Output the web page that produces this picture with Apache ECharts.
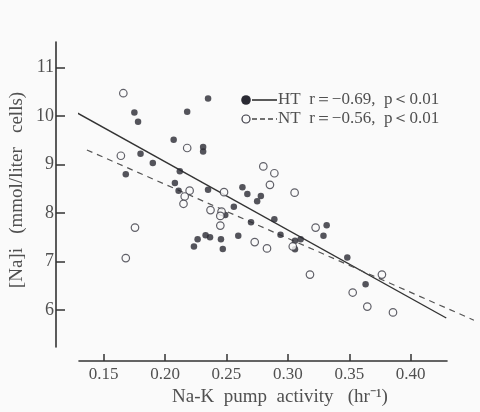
<!DOCTYPE html>
<html>
<head>
<meta charset="utf-8">
<script src="https://cdn.jsdelivr.net/npm/echarts@6/dist/echarts.min.js"></script>
<style>
html,body{margin:0;padding:0;background:#fafafa;}
#c{width:480px;height:412px;}
</style>
</head>
<body>
<div id="c"></div>
<script>
// HT (hypertensive) points: [pump activity, [Na]i]
const htPoints = [
  [0.168, 8.80], [0.175, 10.07], [0.178, 9.88], [0.180, 9.22], [0.190, 9.03],
  [0.207, 9.51], [0.208, 8.62], [0.211, 8.46], [0.212, 8.86], [0.218, 10.09],
  [0.231, 9.36], [0.231, 9.27], [0.235, 10.36], [0.235, 8.48], [0.256, 8.13],
  [0.249, 7.96], [0.263, 8.53], [0.267, 8.39], [0.278, 8.35], [0.275, 8.24],
  [0.270, 7.81], [0.289, 7.87], [0.294, 7.55], [0.2265, 7.46], [0.233, 7.54],
  [0.2366, 7.50], [0.2455, 7.46], [0.2235, 7.31], [0.247, 7.26], [0.2596, 7.53],
  [0.3058, 7.43], [0.3104, 7.46], [0.3058, 7.25], [0.3316, 7.75], [0.329, 7.53],
  [0.3484, 7.08], [0.3633, 6.53]
];
// NT (normotensive) points
const ntPoints = [
  [0.166, 10.47], [0.164, 9.18], [0.1755, 7.70], [0.168, 7.07], [0.218, 9.34],
  [0.220, 8.46], [0.216, 8.34], [0.215, 8.19], [0.248, 8.43], [0.237, 8.06],
  [0.246, 8.03], [0.245, 7.94], [0.245, 7.74], [0.273, 7.40], [0.283, 7.27],
  [0.280, 8.96], [0.289, 8.82], [0.2854, 8.58], [0.3055, 8.42], [0.3226, 7.70],
  [0.304, 7.31], [0.318, 6.73], [0.3766, 6.73], [0.3528, 6.36], [0.3647, 6.07],
  [0.3856, 5.95]
];
// regression line endpoints
const htLine = [[0.128, 10.07], [0.429, 5.835]];
const ntLine = [[0.1364, 9.30], [0.455, 5.79]];
// ticks
const xTicks = [0.15, 0.20, 0.25, 0.30, 0.35, 0.40];
const yTicks = [6, 7, 8, 9, 10, 11];
const legendHT = 'HT  r＝−0.69,  p＜0.01';
const legendNT = 'NT  r＝−0.56,  p＜0.01';
const xTitle = 'Na-K  pump  activity   (hr⁻¹)';
const yTitle = '[Na]i   (mmol/liter   cells)';

const FONT = 'Liberation Serif';
const INK = '#2a2a33';
const TXT = '#505050';

const X_MIN = 0.1299, X_MAX = 0.4296, PX_PER_X = 368 / (X_MAX - X_MIN);
const X_MAX2 = 0.46;

const chart = echarts.init(document.getElementById('c'));
chart.setOption({
  backgroundColor: '#fafafa',
  animation: false,
  grid: [
    {left: 79, width: 368, top: 42, height: 305},
    {left: 79, width: Math.round((X_MAX2 - X_MIN) * PX_PER_X), top: 42, height: 305}
  ],
  xAxis: [{
    type: 'value', min: X_MIN, max: X_MAX, offset: 14, gridIndex: 0,
    axisLine: {lineStyle: {color: '#333', width: 1.6}},
    axisTick: {inside: true, length: 7, customValues: xTicks, lineStyle: {color: '#333', width: 1.5}},
    axisLabel: {customValues: xTicks, formatter: v => v.toFixed(2), color: TXT, fontFamily: FONT, fontSize: 17, margin: 5},
    splitLine: {show: false}
  }, {
    type: 'value', min: X_MIN, max: X_MAX2, gridIndex: 1, show: false
  }],
  yAxis: [{
    type: 'value', min: 5.237, max: 11.526, offset: 23, gridIndex: 0,
    axisLine: {show: true, lineStyle: {color: '#333', width: 1.6}},
    axisTick: {show: true, inside: true, length: 9, customValues: yTicks, lineStyle: {color: '#333', width: 1.5}},
    axisLabel: {customValues: yTicks, color: TXT, fontFamily: FONT, fontSize: 18, margin: 2},
    splitLine: {show: false}
  }, {
    type: 'value', min: 5.237, max: 11.526, gridIndex: 1, show: false
  }],
  series: [
    {type: 'line', data: htLine, symbol: 'none', clip: false, z: 1,
     lineStyle: {color: '#333', width: 1.4}},
    {type: 'line', data: ntLine, symbol: 'none', z: 1, xAxisIndex: 1, yAxisIndex: 1,
     lineStyle: {color: '#555', width: 1.2, type: [6, 5]}},
    {type: 'scatter', data: htPoints, symbolSize: 6.5, z: 3,
     itemStyle: {color: INK}},
    {type: 'scatter', data: ntPoints, symbolSize: 7.5, z: 3,
     itemStyle: {color: '#fafafa', borderColor: '#3a3a44', borderWidth: 1.2}}
  ],
  graphic: [
    {type: 'circle', shape: {cx: 246, cy: 100, r: 4.8}, style: {fill: INK}},
    {type: 'line', shape: {x1: 252, y1: 100, x2: 277, y2: 100}, style: {stroke: '#333', lineWidth: 1.6}},
    {type: 'text', x: 278, y: 100, style: {text: legendHT, font: '17px "Liberation Serif"', fill: TXT, verticalAlign: 'middle'}},
    {type: 'circle', shape: {cx: 246, cy: 119, r: 4}, style: {fill: '#fafafa', stroke: '#3a3a44', lineWidth: 1.2}},
    {type: 'line', shape: {x1: 252, y1: 119, x2: 277, y2: 119}, style: {stroke: '#444', lineWidth: 1.3, lineDash: [5, 3]}},
    {type: 'text', x: 278, y: 119, style: {text: legendNT, font: '17px "Liberation Serif"', fill: TXT, verticalAlign: 'middle'}},
    {type: 'text', x: 280, y: 397, style: {text: xTitle, font: '19px "Liberation Serif"', fill: TXT, align: 'center', verticalAlign: 'middle'}},
    {type: 'text', x: 17, y: 190, rotation: Math.PI / 2, style: {text: yTitle, font: '19px "Liberation Serif"', fill: TXT, align: 'center', verticalAlign: 'middle'}}
  ]
});
</script>
</body>
</html>
